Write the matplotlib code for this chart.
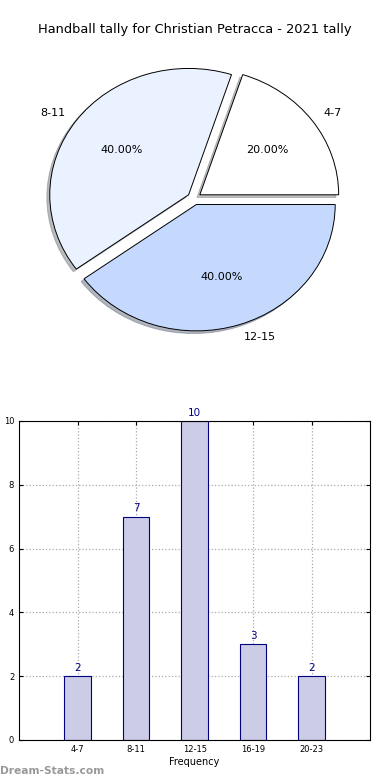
import matplotlib
matplotlib.use("Agg")
import matplotlib.pyplot as plt
import numpy as np

title = "Handball tally for Christian Petracca - 2021 tally"
pie_labels = ["4-7", "8-11", "12-15"]
pie_values = [20, 40, 40]
pie_colors = ["#ffffff", "#eaf1ff", "#c5d9ff"]

bar_labels = ["4-7", "8-11", "12-15", "16-19", "20-23"]
bar_values = [2, 7, 10, 3, 2]

fig = plt.figure(figsize=(3.9, 7.8), dpi=100)

# Pie
axp = fig.add_axes([0.053, 0.543, 0.89, 0.405])
wedges, texts, autotexts = axp.pie(
    pie_values, labels=pie_labels, colors=pie_colors, autopct="%1.2f%%",
    explode=[0.05] * len(pie_values), shadow=dict(ox=-0.015, oy=-0.015, shade=0.5),
    startangle=0,
    wedgeprops=dict(edgecolor="black", linewidth=0.7),
    textprops=dict(fontsize=8))
axp.set_aspect("auto")
axp.set_xlim(-1.25, 1.25)
axp.set_ylim(-1.25, 1.25)
fig.text(0.5, 1 - 30 / 780, title, ha="center", va="center", fontsize=9.4)

# Bars
axb = fig.add_axes([0.049, 0.0513, 0.9, 0.409])
x = np.arange(len(bar_values))
bars = axb.bar(x, bar_values, width=0.45, color="#ccccE6", edgecolor="navy", linewidth=0.8, zorder=2)
for xi, v in zip(x, bar_values):
    axb.text(xi, v + 0.1, str(v), ha="center", va="bottom", color="navy", fontsize=7.5)
axb.set_xlim(-1, 5)
axb.set_ylim(0, 10)
axb.set_xticks(x)
axb.set_xticklabels(bar_labels)
axb.set_yticks(np.arange(0, 11, 2))
axb.tick_params(labelsize=6, direction="in", right=True, top=True, length=3)
axb.grid(True, linestyle=":", color="#aaaaaa", linewidth=0.9, zorder=0)
axb.set_axisbelow(True)
axb.set_xlabel("Frequency", fontsize=7, labelpad=2)
axb.set_ylabel("Goals Per Match", fontsize=6, labelpad=3)
for s in axb.spines.values():
    s.set_linewidth(0.8)

fig.text(0.0, 1 - 771 / 780, "Dream-Stats.com", ha="left", va="center",
         fontsize=7.7, color="#999999", fontweight="bold")

fig.savefig("out.png", dpi=100)
